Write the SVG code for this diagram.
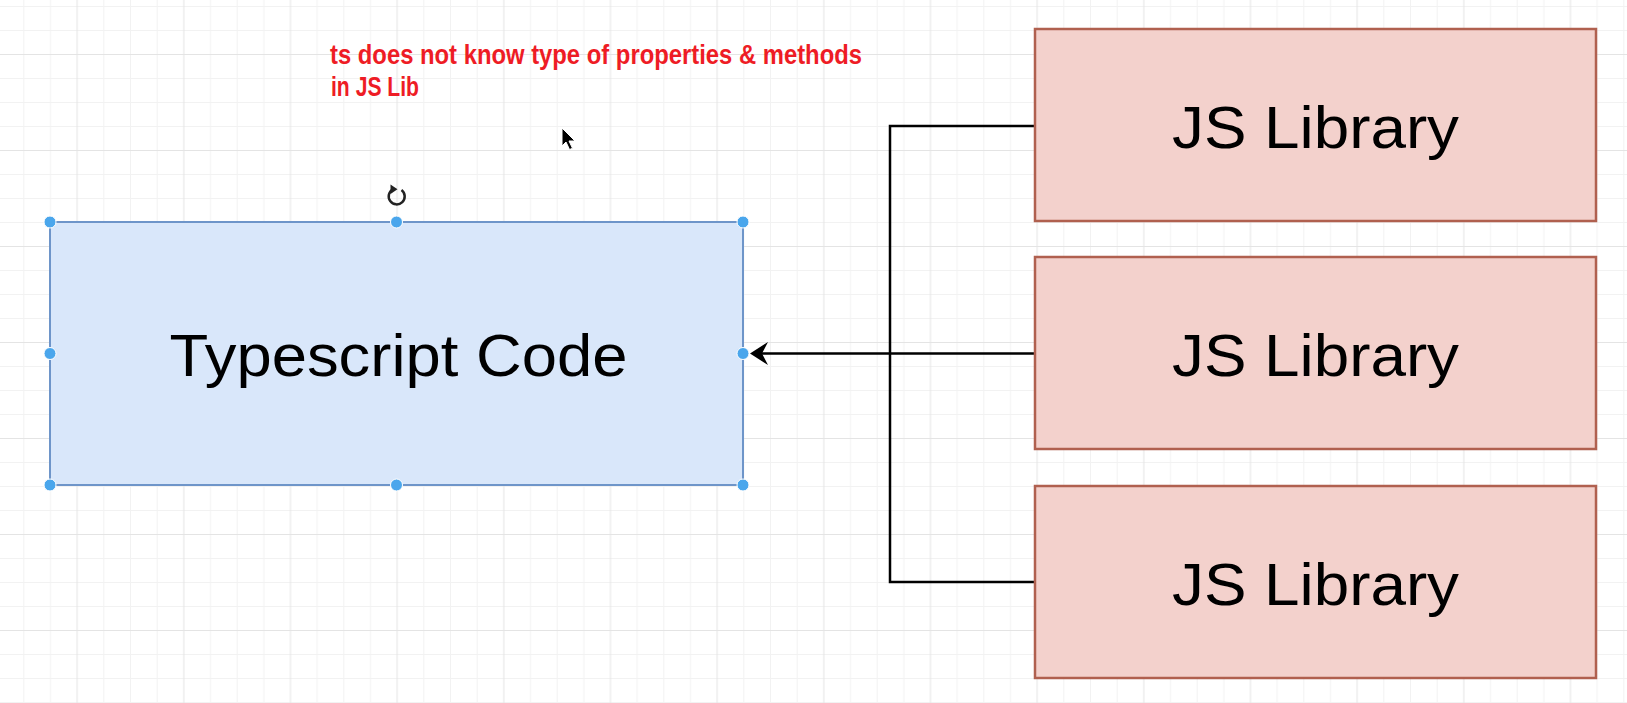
<svg xmlns="http://www.w3.org/2000/svg" width="1627" height="703" viewBox="0 0 1627 703">
  <defs>
    <pattern id="grid" patternUnits="userSpaceOnUse" x="23.333" y="6" width="106.667" height="96">
      <g stroke="#f2f2f2" stroke-width="1" fill="none">
        <line x1="0.5" y1="0" x2="0.5" y2="96"/>
        <line x1="27.17" y1="0" x2="27.17" y2="96"/>
        <line x1="80.5" y1="0" x2="80.5" y2="96"/>
        <line x1="0" y1="0.5" x2="106.667" y2="0.5"/>
        <line x1="0" y1="24.5" x2="106.667" y2="24.5"/>
        <line x1="0" y1="72.5" x2="106.667" y2="72.5"/>
      </g>
      <g stroke="#e4e4e4" stroke-width="1" fill="none">
        <line x1="53.83" y1="0" x2="53.83" y2="96"/>
        <line x1="0" y1="48.5" x2="106.667" y2="48.5"/>
      </g>
    </pattern>
    <style>
      .lib rect { fill: #f3d1cc; stroke: #b0604f; stroke-width: 2.5; }
      .big { font-family: "Liberation Sans", Arial, sans-serif; font-size: 59px; fill: #000; }
      .conn { fill: none; stroke: #000; stroke-width: 2.5; }
      .handle { fill: #4aa6ec; stroke: #ffffff; stroke-width: 1; }
      .note { font-family: "Liberation Sans", Arial, sans-serif; font-weight: bold; font-size: 27px; fill: #ee1c25; }
    </style>
  </defs>

  <rect x="0" y="0" width="1627" height="703" fill="#ffffff"/>
  <rect x="0" y="0" width="1627" height="703" fill="url(#grid)"/>

  <g id="note">
    <text class="note" x="330" y="64" textLength="532" lengthAdjust="spacingAndGlyphs">ts does not know type of properties &amp; methods</text>
    <text class="note" x="331" y="96" textLength="88" lengthAdjust="spacingAndGlyphs">in JS Lib</text>
  </g>

  <g id="connectors">
    <polyline class="conn" points="1035,126 890,126 890,582 1035,582"/>
    <line class="conn" x1="1035" y1="353.5" x2="762" y2="353.5"/>
    <path d="M750,353.5 L768,342 L762,353.5 L768,365 Z" fill="#000"/>
  </g>

  <g id="typescript-code">
    <rect x="50" y="222" width="693" height="263" fill="#d9e7fa" stroke="#6e95c9" stroke-width="2"/>
    <text class="big" x="398.5" y="375.5" text-anchor="middle" textLength="458" lengthAdjust="spacingAndGlyphs">Typescript Code</text>
  </g>

  <g id="selection-handles">
    <circle class="handle" cx="50" cy="222" r="6"/>
    <circle class="handle" cx="396.5" cy="222" r="6"/>
    <circle class="handle" cx="743" cy="222" r="6"/>
    <circle class="handle" cx="50" cy="353.5" r="6"/>
    <circle class="handle" cx="743" cy="353.5" r="6"/>
    <circle class="handle" cx="50" cy="485" r="6"/>
    <circle class="handle" cx="396.5" cy="485" r="6"/>
    <circle class="handle" cx="743" cy="485" r="6"/>
    <g id="rotate-icon">
      <path d="M401.5,190 A8,8 0 1 1 393,189.3" fill="none" stroke="#222" stroke-width="2.5"/>
      <path d="M390.5,184.5 L397.5,189.3 L390.5,194 Z" fill="#222"/>
    </g>
  </g>

  <g id="js-library-1" class="lib">
    <rect x="1035" y="29" width="561" height="192"/>
    <text class="big" x="1315.5" y="147.5" text-anchor="middle" textLength="287" lengthAdjust="spacingAndGlyphs">JS Library</text>
  </g>
  <g id="js-library-2" class="lib">
    <rect x="1035" y="257" width="561" height="192"/>
    <text class="big" x="1315.5" y="375.5" text-anchor="middle" textLength="287" lengthAdjust="spacingAndGlyphs">JS Library</text>
  </g>
  <g id="js-library-3" class="lib">
    <rect x="1035" y="486" width="561" height="192"/>
    <text class="big" x="1315.5" y="604.5" text-anchor="middle" textLength="287" lengthAdjust="spacingAndGlyphs">JS Library</text>
  </g>

  <g id="cursor">
    <path d="M562,128 L562,146 L566,142 L569.5,149.5 L572.5,148.3 L569,141 L575,141 Z" fill="#000" stroke="#fff" stroke-width="1"/>
  </g>
</svg>
